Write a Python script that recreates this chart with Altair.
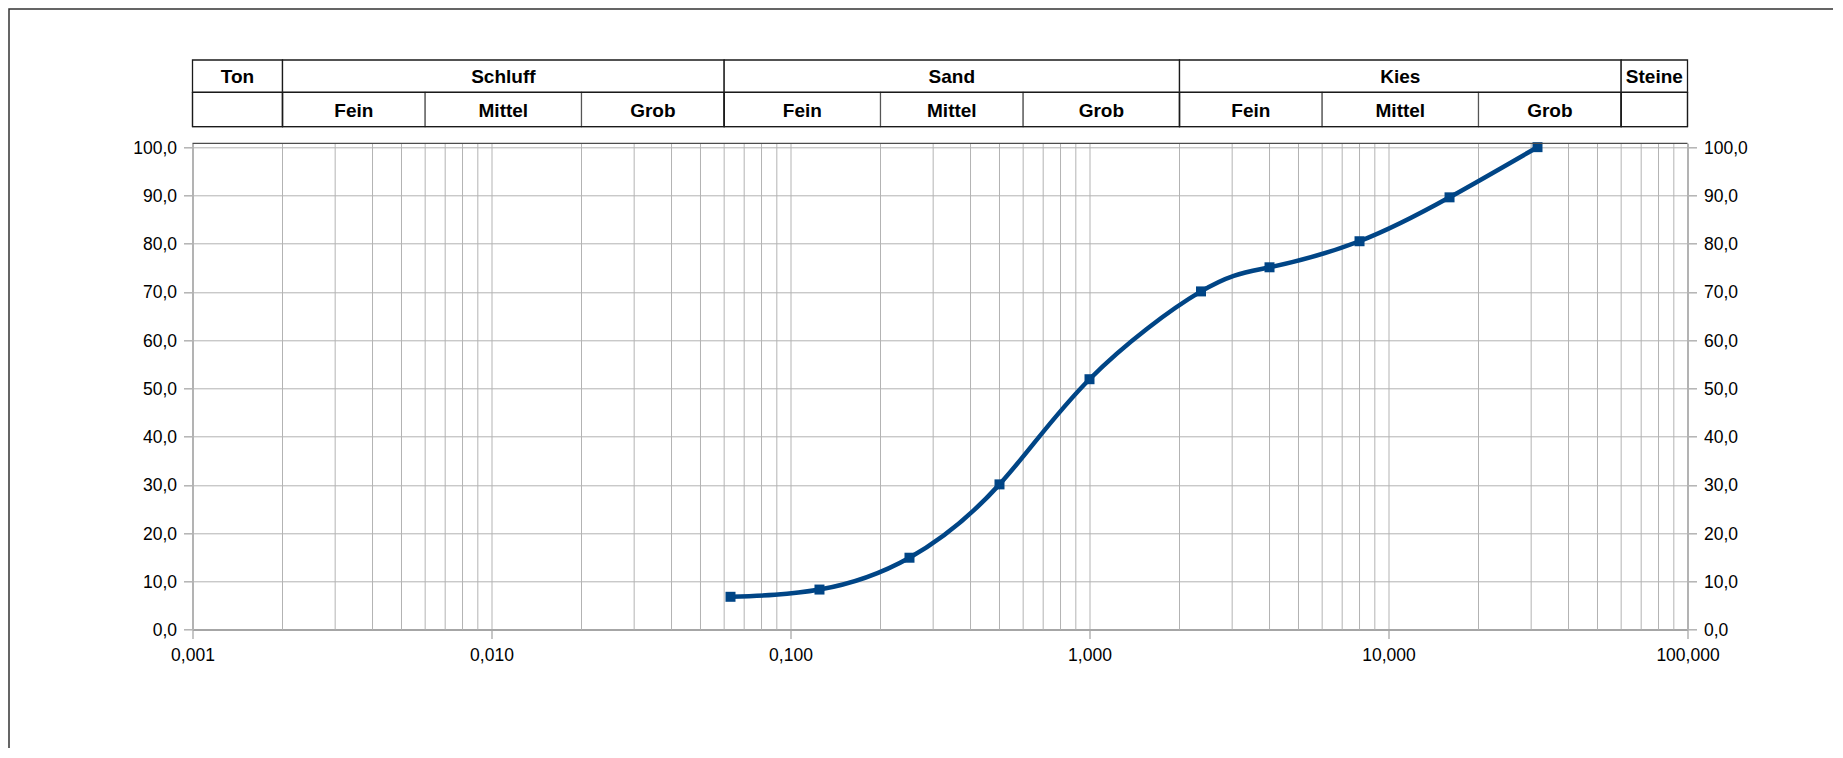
import altair as alt
import pandas as pd

# --- data ---
grain_mm = [0.063, 0.125, 0.25, 0.5, 1.0, 2.36, 4.0, 8.0, 16.0, 31.5]
passing = [6.8, 8.3, 14.9, 30.1, 51.9, 70.1, 75.1, 80.5, 89.6, 100.0]

x_major = [0.001, 0.01, 0.1, 1, 10, 100]
x_minor = [m * d for d in [0.001, 0.01, 0.1, 1, 10] for m in range(2, 10)]
y_ticks = list(range(0, 101, 10))

top_labels = ["Ton", "Schluff", "Sand", "Kies", "Steine"]
top_lo = [0.001, 0.002, 0.06, 2, 60]
top_hi = [0.002, 0.06, 2, 60, 100]

sub_labels = ["", "Fein", "Mittel", "Grob", "Fein", "Mittel", "Grob",
              "Fein", "Mittel", "Grob", ""]
sub_lo = [0.001, 0.002, 0.006, 0.02, 0.06, 0.2, 0.6, 2, 6, 20, 60]
sub_hi = [0.002, 0.006, 0.02, 0.06, 0.2, 0.6, 2, 6, 20, 60, 100]

# --- tables ---
curve = pd.DataFrame({"d": grain_mm, "p": passing})
minor = pd.DataFrame({"d": x_minor})
top = pd.DataFrame({"label": top_labels, "lo": top_lo, "hi": top_hi})
top["mid"] = (top["lo"] * top["hi"]) ** 0.5
sub = pd.DataFrame({"label": sub_labels, "lo": sub_lo, "hi": sub_hi})
sub["mid"] = (sub["lo"] * sub["hi"]) ** 0.5
one = pd.DataFrame({"a": [0]})

# --- layout (pixels) ---
W, H = 1495, 486.3
PL, PT, PR, PB = 184.5, 135.3, 145.5, 118.4
ROW1_TOP, ROW_MID, ROW2_BOT = -83.3, -51.0, -16.6

LABEL_FONT = "Liberation Sans"
HEAD_FONT = "Liberation Sans Narrow, Liberation Sans, Arial Narrow, sans-serif"
GRID = "#b3b3b3"

xs = alt.Scale(type="log", domain=[0.001, 100], nice=False)
ys = alt.Scale(domain=[0, 100.8], nice=False, zero=True)

x_label = "replace(format(datum.value, '.3f'), '.', ',')"
y_label = "replace(format(datum.value, '.1f'), '.', ',')"

x_axis = alt.Axis(values=x_major, orient="bottom", grid=True, gridColor=GRID, gridWidth=1,
                  domainColor="#a6a6a6", domainWidth=2,
                  tickColor=GRID, tickWidth=1.5, tickSize=9,
                  labelFont=LABEL_FONT, labelFontSize=17.5, labelColor="#000000",
                  labelPadding=8, labelExpr=x_label, labelFlush=False,
                  labelOverlap=False, title=None)

def y_axis(orient, grid):
    return alt.Axis(values=y_ticks, orient=orient, grid=grid, gridColor=GRID,
                    gridWidth=1, domainColor=GRID, domainWidth=2,
                    tickColor=GRID, tickWidth=1.5, tickSize=9,
                    labelFont=LABEL_FONT, labelFontSize=17.5, labelColor="#000000",
                    labelPadding=7, labelExpr=y_label, labelOffset=1,
                    labelFlush=False, labelOverlap=False, title=None)

def xenc(field):
    return alt.X(field, type="quantitative", scale=xs, axis=x_axis)

border = alt.Chart(one).mark_rect(fillOpacity=0, stroke="#333333", strokeWidth=1.5).encode(
    x=alt.value(-PL + 1), x2=alt.value(W + PR + 60),
    y=alt.value(-PT + 1), y2=alt.value(H + PB + 60))

minor_grid = alt.Chart(minor).mark_rule(color=GRID, strokeWidth=1).encode(x=xenc("d"))

top_frame = alt.Chart(one).mark_rule(color="#4d4d4d", strokeWidth=1.2).encode(
    x=alt.value(0), x2=alt.value(W), y=alt.value(0))

top_cells = alt.Chart(top).mark_rect(fill="white", stroke="#1a1a1a", strokeWidth=1.3).encode(
    x=xenc("lo"), x2="hi:Q", y=alt.value(ROW1_TOP), y2=alt.value(ROW_MID))

sub_cells = alt.Chart(sub).mark_rect(fill="white", stroke="#555555", strokeWidth=1.2).encode(
    x=xenc("lo"), x2="hi:Q", y=alt.value(ROW_MID), y2=alt.value(ROW2_BOT))

group_cells = alt.Chart(top).mark_rect(fillOpacity=0, stroke="#1a1a1a", strokeWidth=1.3).encode(
    x=xenc("lo"), x2="hi:Q", y=alt.value(ROW_MID), y2=alt.value(ROW2_BOT))

top_text = alt.Chart(top).mark_text(font=HEAD_FONT, fontWeight="bold", fontSize=19,
                                    color="#000000", align="center", baseline="middle").encode(
    x=xenc("mid"), y=alt.value((ROW1_TOP + ROW_MID) / 2 + 1), text="label:N")

sub_text = alt.Chart(sub).mark_text(font=HEAD_FONT, fontWeight="bold", fontSize=19,
                                    color="#000000", align="center", baseline="middle").encode(
    x=xenc("mid"), y=alt.value((ROW_MID + ROW2_BOT) / 2 + 1), text="label:N")

line = alt.Chart(curve).mark_line(color="#004586", strokeWidth=4.5, interpolate="natural").encode(
    x=xenc("d"), y=alt.Y("p:Q", scale=ys, axis=y_axis("left", True)))

points = alt.Chart(curve).mark_point(shape="square", size=100, filled=True,
                                     color="#004586", opacity=1).encode(
    x=xenc("d"), y=alt.Y("p:Q", scale=ys, axis=y_axis("right", False)))

chart = alt.layer(
    border, minor_grid, line, points, top_frame,
    top_cells, sub_cells, group_cells, top_text, sub_text
).resolve_axis(y="independent").properties(
    width=W, height=H,
    autosize=alt.AutoSizeParams(type="none"),
    padding={"left": PL, "top": PT, "right": PR, "bottom": PB},
    background="white",
).configure_view(strokeWidth=0)

chart.save("out.html", embed_options={"renderer": "svg", "actions": False})
